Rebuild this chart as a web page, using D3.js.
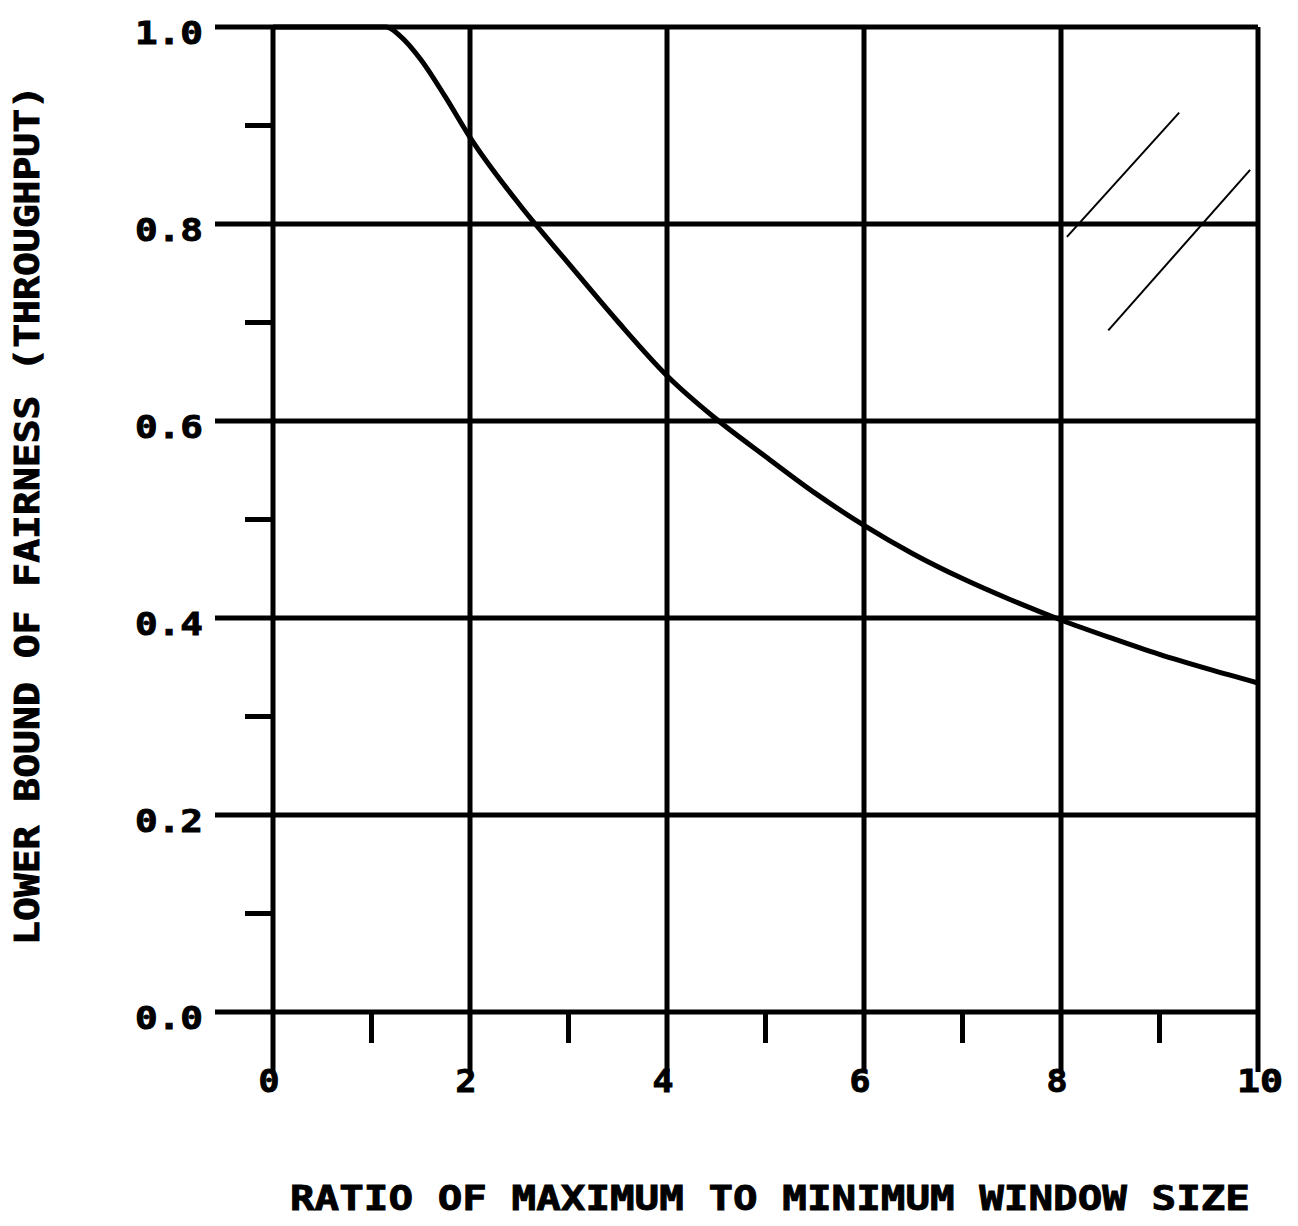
<!DOCTYPE html>
<html>
<head>
<meta charset="utf-8">
<script src="https://cdn.jsdelivr.net/npm/d3@7"></script>
<style>
  html, body { margin: 0; padding: 0; background: #fff; }
  svg { display: block; }
  text { font-family: "DejaVu Sans Mono", monospace; font-weight: bold; fill: #000; stroke: #000; stroke-width: 0.9; }
</style>
</head>
<body>
<script>
// ---- data ----
const ratioX = [0, 1.15, 1.3, 1.5, 1.75, 2, 2.5, 3, 3.5, 4, 4.5, 5, 5.5, 6, 6.5, 7, 7.5, 8, 8.5, 9, 9.5, 10];
const fairnessY = [1, 1, 0.99, 0.967, 0.929, 0.888, 0.820, 0.760, 0.701, 0.646, 0.602, 0.564, 0.527, 0.494, 0.465, 0.440, 0.418, 0.398, 0.380, 0.363, 0.348, 0.334];
const xMajorTicks = [0, 2, 4, 6, 8, 10];
const xMinorTicks = [1, 3, 5, 7, 9];
const yMajorTicks = [0, 0.2, 0.4, 0.6, 0.8, 1.0];
const yMinorTicks = [0.1, 0.3, 0.5, 0.7, 0.9];
const xTickLabels = ["0", "2", "4", "6", "8", "10"];
const yTickLabels = ["0.0", "0.2", "0.4", "0.6", "0.8", "1.0"];
const xTitle = "RATIO OF MAXIMUM TO MINIMUM WINDOW SIZE";
const yTitle = "LOWER BOUND OF FAIRNESS (THROUGHPUT)";
// stray pen marks visible on the original figure (data coordinates)
const strayMarkStartX = [8.06, 8.48];
const strayMarkStartY = [0.787, 0.692];
const strayMarkEndX = [9.2, 9.92];
const strayMarkEndY = [0.913, 0.855];

// ---- layout ----
const W = 1298, H = 1226;
const svg = d3.select("body").append("svg").attr("width", W).attr("height", H);
const x = d3.scaleLinear().domain([0, 10]).range([273, 1258]);
const y = d3.scaleLinear().domain([0, 1]).range([1012, 27]);
const SW = 5;

const g = svg.append("g");

// horizontal grid lines (extend left past the axis)
g.selectAll("line.hgrid").data(yMajorTicks).enter().append("line")
  .attr("x1", x(0) - 58).attr("x2", x(10))
  .attr("y1", d => y(d)).attr("y2", d => y(d))
  .attr("stroke", "#000").attr("stroke-width", SW);

// vertical grid lines (extend below the axis)
g.selectAll("line.vgrid").data(xMajorTicks).enter().append("line")
  .attr("x1", d => x(d)).attr("x2", d => x(d))
  .attr("y1", y(1)).attr("y2", y(0) + 60)
  .attr("stroke", "#000").attr("stroke-width", SW);

// minor y ticks
g.selectAll("line.ymin").data(yMinorTicks).enter().append("line")
  .attr("x1", x(0) - 28).attr("x2", x(0))
  .attr("y1", d => y(d)).attr("y2", d => y(d))
  .attr("stroke", "#000").attr("stroke-width", SW);

// minor x ticks
g.selectAll("line.xmin").data(xMinorTicks).enter().append("line")
  .attr("x1", d => x(d)).attr("x2", d => x(d))
  .attr("y1", y(0)).attr("y2", y(0) + 31)
  .attr("stroke", "#000").attr("stroke-width", SW);

// y tick labels
g.selectAll("text.ylab").data(yMajorTicks).enter().append("text")
  .attr("x", x(0) - 138).attr("y", d => y(d) + 17)
  .attr("font-size", 32)
  .attr("textLength", 68).attr("lengthAdjust", "spacingAndGlyphs")
  .text((d, i) => yTickLabels[i]);

// x tick labels
g.selectAll("text.xlab").data(xMajorTicks).enter().append("text")
  .attr("x", d => x(d) + (d === 10 ? 2 : -4)).attr("y", y(0) + 80)
  .attr("font-size", 32)
  .attr("text-anchor", "middle")
  .attr("textLength", (d, i) => xTickLabels[i].length === 2 ? 46 : 21)
  .attr("lengthAdjust", "spacingAndGlyphs")
  .text((d, i) => xTickLabels[i]);

// axis titles
svg.append("text")
  .attr("x", 290).attr("y", 1210)
  .attr("font-size", 34)
  .attr("textLength", 960).attr("lengthAdjust", "spacingAndGlyphs")
  .text(xTitle);

svg.append("text")
  .attr("transform", "translate(39,945) rotate(-90)")
  .attr("font-size", 33)
  .attr("textLength", 860).attr("lengthAdjust", "spacingAndGlyphs")
  .text(yTitle);

// curve
const pts = ratioX.map((v, i) => [v, fairnessY[i]]);
const line = d3.line().x(d => x(d[0])).y(d => y(d[1])).curve(d3.curveMonotoneX);
g.append("path").datum(pts)
  .attr("d", line)
  .attr("fill", "none").attr("stroke", "#000").attr("stroke-width", SW)
  .attr("stroke-linejoin", "round");

// stray marks
g.selectAll("line.stray").data(strayMarkStartX).enter().append("line")
  .attr("x1", (d, i) => x(strayMarkStartX[i])).attr("y1", (d, i) => y(strayMarkStartY[i]))
  .attr("x2", (d, i) => x(strayMarkEndX[i])).attr("y2", (d, i) => y(strayMarkEndY[i]))
  .attr("stroke", "#000").attr("stroke-width", 2);
</script>
</body>
</html>
